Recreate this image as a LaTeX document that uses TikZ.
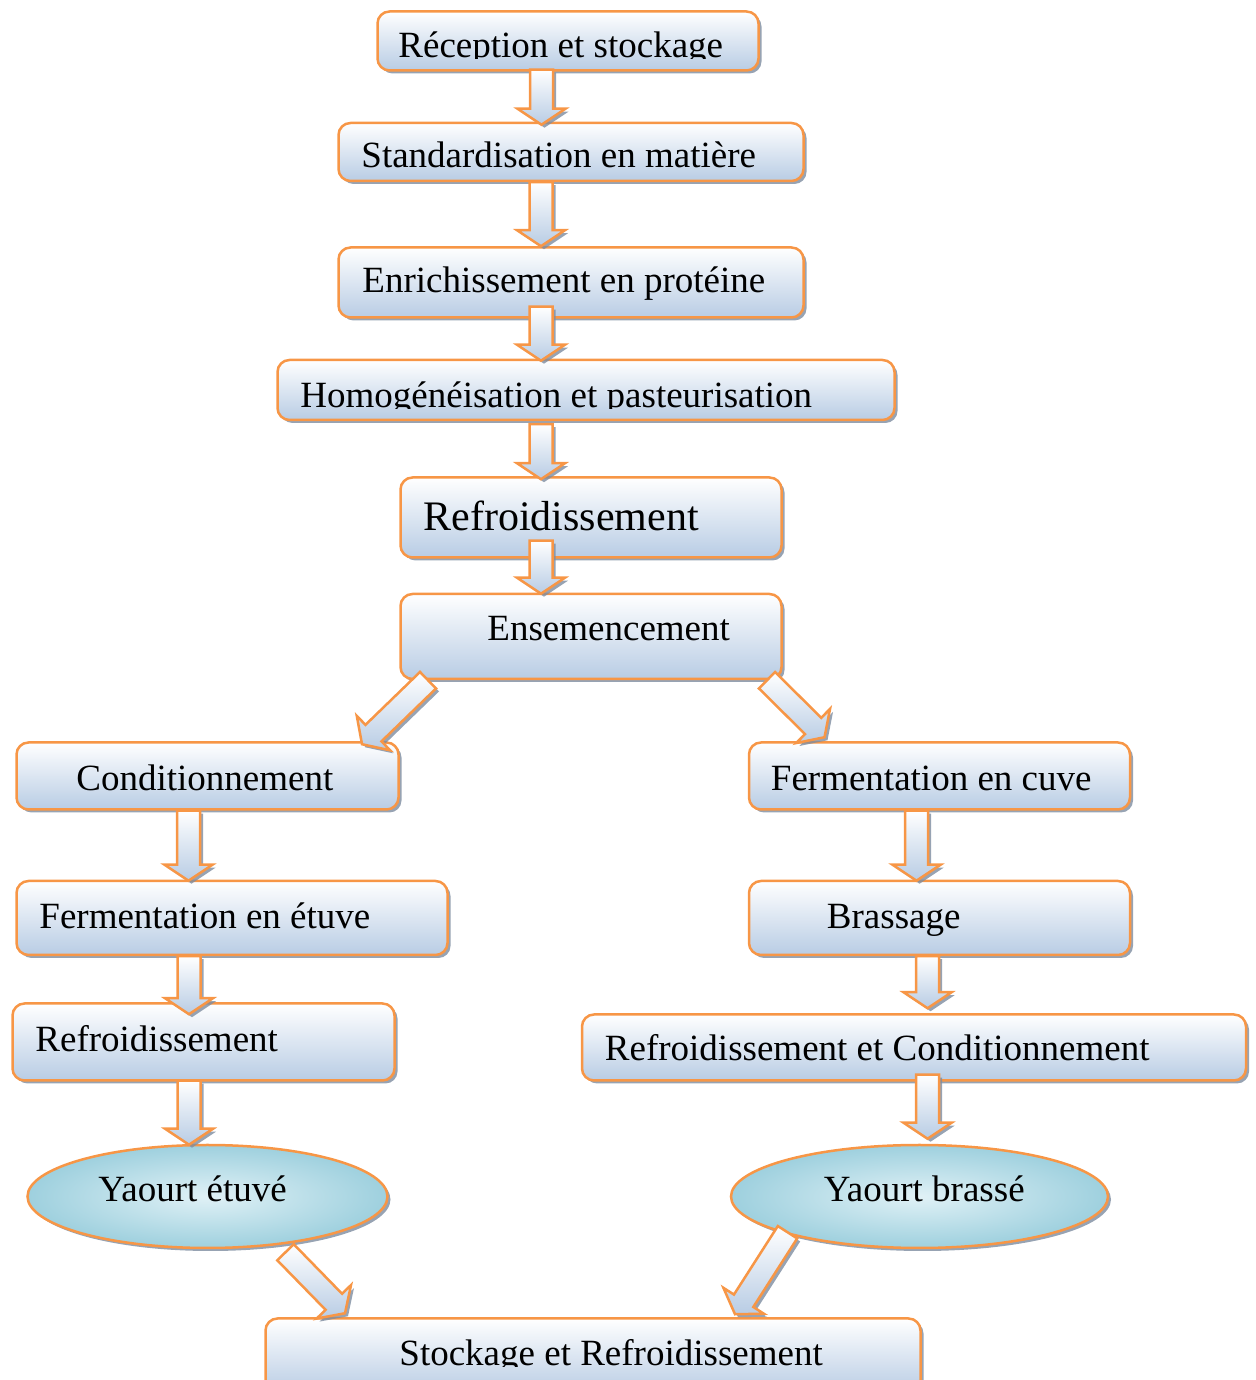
\documentclass[tikz,border=0pt]{standalone}
\usepackage{fontspec}
\setmainfont{Liberation Serif}
\usetikzlibrary{positioning,shapes.geometric,calc,shadows}
\definecolor{boxorange}{RGB}{247,150,70}
\definecolor{boxblue}{RGB}{184,204,228}
\definecolor{cyanlight}{RGB}{224,241,246}
\definecolor{cyandark}{RGB}{158,208,222}
\definecolor{shadowgray}{RGB}{125,140,160}

\tikzset{
  stepbox/.style={draw=boxorange, line width=2.5pt, rounded corners=12pt,
    top color=white, bottom color=boxblue, inner sep=0pt,
    drop shadow={shadow xshift=3pt, shadow yshift=-3pt, fill=shadowgray, opacity=0.8}},
  endbox/.style={ellipse, draw=boxorange, line width=2.5pt, inner sep=0pt,
    inner color=cyanlight, outer color=cyandark,
    drop shadow={shadow xshift=3pt, shadow yshift=-3pt, fill=shadowgray, opacity=0.8}},
  lbl/.style={anchor=base west, inner sep=0pt, font=\fontsize{37}{44}\selectfont},
  flowarr/.style={draw=boxorange, line width=2.5pt, top color=white, bottom color=boxblue,
    drop shadow={shadow xshift=3pt, shadow yshift=-3pt, fill=shadowgray, opacity=0.8}}
}

% block arrow from #1 to #2
\newcommand\flowarrow[2]{%
  \draw[flowarr]
    ($(#1)!11.5pt!90:(#2)$) --
    ($(#2)!16pt!(#1)!11.5pt!-90:(#1)$) --
    ($(#2)!16pt!(#1)!24pt!-90:(#1)$) --
    (#2) --
    ($(#2)!16pt!(#1)!24pt!90:(#1)$) --
    ($(#2)!16pt!(#1)!11.5pt!90:(#1)$) --
    ($(#1)!11.5pt!-90:(#2)$) -- cycle;}

\begin{document}
\begin{tikzpicture}[x=1pt,y=1pt]
    \useasboundingbox (0,0) rectangle (1255,1380);
    % boxes
    \node (recep) [stepbox,minimum width=381pt,minimum height=59pt] at (568,1339) {};
    \node (stand) [stepbox,minimum width=465pt,minimum height=58pt,below=50pt of recep,xshift=3pt] {};
    \node (enrich) [stepbox,minimum width=465pt,minimum height=70pt,below=64pt of stand] {};
    \node (homog) [stepbox,minimum width=617pt,minimum height=60pt,below=40pt of enrich,xshift=15pt] {};
    \node (refr) [stepbox,minimum width=381pt,minimum height=80pt,below=55pt of homog,xshift=5pt] {};
    \node (ensem) [stepbox,minimum width=381pt,minimum height=85pt,below=34pt of refr] {};
    \node (condi) [stepbox,minimum width=382pt,minimum height=67pt,below=61pt of ensem,xshift=-383.5pt] {};
    \node (fcuve) [stepbox,minimum width=381pt,minimum height=67pt,right=348pt of condi] {};
    \node (fetuve) [stepbox,minimum width=431pt,minimum height=74pt,below=69pt of condi,xshift=24.5pt] {};
    \node (brass) [stepbox,minimum width=381pt,minimum height=74pt,below=69pt of fcuve] {};
    \node (refrl) [stepbox,minimum width=382pt,minimum height=77pt,below=46pt of fetuve,xshift=-28.5pt] {};
    \node (refrc) [stepbox,minimum width=664pt,minimum height=66pt,below=57pt of brass,xshift=-25.5pt] {};
    \node (etuve) [endbox,minimum width=360pt,minimum height=103pt,below=62pt of refrl,xshift=4pt] {};
    \node (brasse) [endbox,minimum width=377pt,minimum height=103pt,below=62pt of refrc,xshift=5.5pt] {};
    \node (stock) [stepbox,minimum width=655pt,minimum height=75pt,below=68pt of etuve,xshift=385.5pt] {};

    % texts
    \begin{scope}
      \clip ([yshift=-48pt]recep.north west) rectangle (recep.north east);
      \node (recep-t) [lbl] at ([xshift=22pt,yshift=-47pt]recep.north west) {Réception et stockage};
    \end{scope}
    \node (stand-t) [lbl] at ([xshift=24pt,yshift=-46pt]stand.north west) {Standardisation en matière};
    \node (enrich-t) [lbl] at ([xshift=25pt,yshift=-46pt]enrich.north west) {Enrichissement en protéine};
    \begin{scope}
      \clip ([yshift=-50pt]homog.north west) rectangle (homog.north east);
      \node (homog-t) [lbl] at ([xshift=24pt,yshift=-49pt]homog.north west) {Homogénéisation et pasteurisation};
    \end{scope}
    \node (refr-t) [lbl,font=\fontsize{42}{50}\selectfont] at ([xshift=24pt,yshift=-54pt]refr.north west) {Refroidissement};
    \node (ensem-t) [lbl] at ([xshift=88pt,yshift=-48pt]ensem.north west) {Ensemencement};
    \node (condi-t) [lbl] at ([xshift=61pt,yshift=-49pt]condi.north west) {Conditionnement};
    \node (fcuve-t) [lbl] at ([xshift=23pt,yshift=-49pt]fcuve.north west) {Fermentation en cuve};
    \node (fetuve-t) [lbl] at ([xshift=24pt,yshift=-49pt]fetuve.north west) {Fermentation en étuve};
    \node (brass-t) [lbl] at ([xshift=79pt,yshift=-49pt]brass.north west) {Brassage};
    \node (refrl-t) [lbl] at ([xshift=24pt,yshift=-49pt]refrl.north west) {Refroidissement};
    \node (refrc-t) [lbl] at ([xshift=24pt,yshift=-47pt]refrc.north west) {Refroidissement et Conditionnement};
    \node (etuve-t) [lbl] at ([xshift=72pt,yshift=-5pt]etuve.west) {Yaourt étuvé};
    \node (brasse-t) [lbl] at ([xshift=94pt,yshift=-5pt]brasse.west) {Yaourt brassé};
    \begin{scope}
      \clip ([yshift=-49pt]stock.north west) rectangle (stock.north east);
      \node (stock-t) [lbl] at ([xshift=135pt,yshift=-48pt]stock.north west) {Stockage et Refroidissement};
    \end{scope}

    % arrows
    \flowarrow{[xshift=-26.5pt,yshift=2pt]recep.south}{[xshift=-29.5pt,yshift=-3pt]stand.north}
    \flowarrow{[xshift=-30pt]stand.south}{[xshift=-30pt]enrich.north}
    \flowarrow{[xshift=-30pt,yshift=12pt]enrich.south}{[xshift=-45pt,yshift=-2pt]homog.north}
    \flowarrow{[xshift=-45pt,yshift=-3pt]homog.south}{[xshift=-50pt,yshift=-3pt]refr.north}
    \flowarrow{[xshift=-50pt,yshift=18pt]refr.south}{[xshift=-50pt,yshift=-1pt]ensem.north}
    \flowarrow{[xshift=-163pt]ensem.south}{[xshift=154.5pt,yshift=-3pt]condi.north}
    \flowarrow{[xshift=176pt]ensem.south}{[xshift=-115pt,yshift=4pt]fcuve.north}
    \flowarrow{[xshift=-19pt]condi.south}{[xshift=-43.5pt,yshift=-1pt]fetuve.north}
    \flowarrow{[xshift=-23pt]fcuve.south}{[xshift=-23pt,yshift=-1pt]brass.north}
    \flowarrow{[xshift=-43pt]fetuve.south}{[xshift=-14.5pt,yshift=-12pt]refrl.north}
    \flowarrow{[xshift=-12pt]brass.south}{[xshift=13.5pt,yshift=5pt]refrc.north}
    \flowarrow{[xshift=-14.5pt,yshift=1pt]refrl.south}{[xshift=-18.5pt,yshift=-1pt]etuve.north}
    \flowarrow{[xshift=13.5pt,yshift=7pt]refrc.south}{[xshift=8pt,yshift=5pt]brasse.north}
    \flowarrow{[xshift=78pt,yshift=-3pt]etuve.south}{[xshift=-248pt,yshift=4pt]stock.north}
    \flowarrow{[xshift=-132pt,yshift=17pt]brasse.south}{[xshift=142pt,yshift=3pt]stock.north}
\end{tikzpicture}
\end{document}
